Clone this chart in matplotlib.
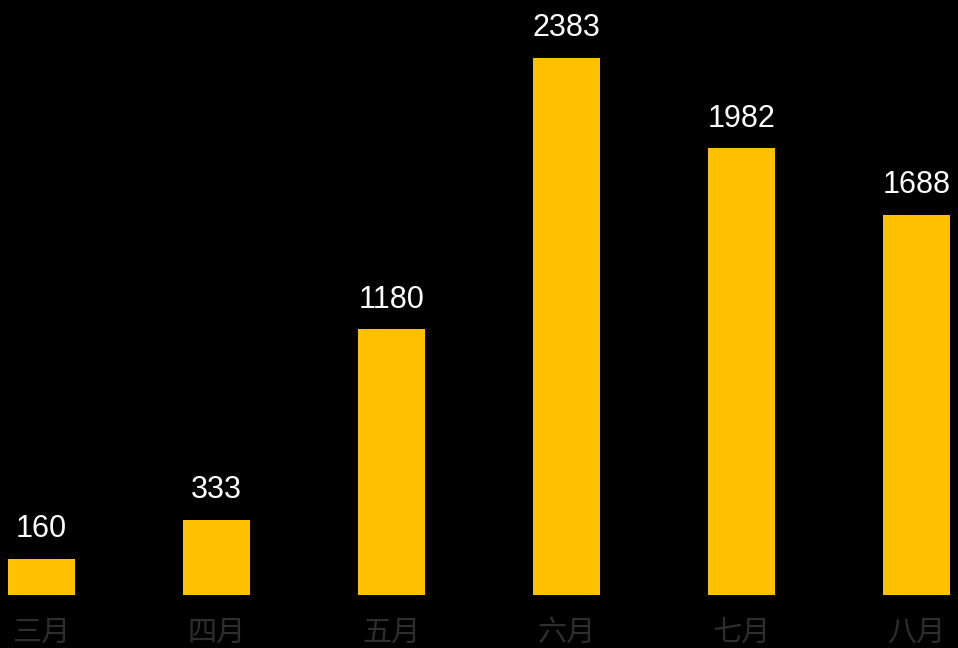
import matplotlib
matplotlib.use("Agg")
import matplotlib.pyplot as plt

categories = ["三月", "四月", "五月", "六月", "七月", "八月"]
values = [160, 333, 1180, 2383, 1982, 1688]

W, H = 958, 648
fig = plt.figure(figsize=(W / 100, H / 100), dpi=100, facecolor="black")
bottom_px = 53
ax = fig.add_axes([0, bottom_px / H, 1, (H - bottom_px) / H], facecolor="black")

x = list(range(len(categories)))
ax.bar(x, values, width=67 / 175, color="#FFC000")
ax.set_xlim(-41.5 / 175, (W - 41.5) / 175)
ax.set_ylim(0, 595 / (537 / 2383))

for xi, v in zip(x, values):
    ax.annotate(str(v), (xi, v), xytext=(0, 10.5), textcoords="offset points",
                ha="center", va="bottom", color="white", fontsize=22,
                family=["Liberation Sans", "DejaVu Sans"])

ax.set_xticks(x)
ax.set_xticklabels(categories, family=["Noto Sans CJK SC", "DejaVu Sans"],
                   fontsize=21, color="#2e2e2e", fontweight="light")
ax.tick_params(axis="x", length=0, pad=16.5)
ax.set_yticks([])
for s in ax.spines.values():
    s.set_visible(False)

fig.savefig("out.png", dpi=100, facecolor="black")
